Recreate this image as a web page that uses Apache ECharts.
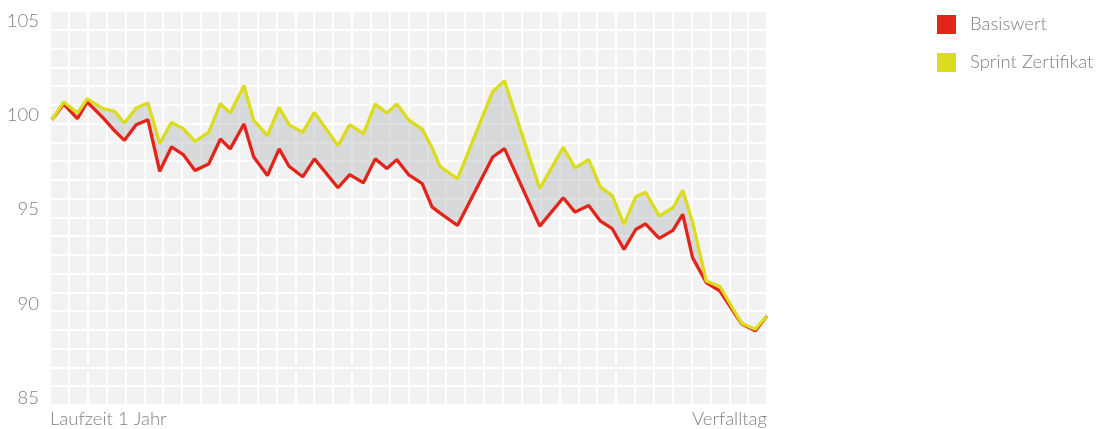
<!DOCTYPE html>
<html>
<head>
<meta charset="utf-8">
<script src="https://cdn.jsdelivr.net/npm/echarts@6/dist/echarts.min.js"></script>
<style>
html,body{margin:0;padding:0;background:#fff;}
#chart{width:1102px;height:429px;}
</style>
</head>
<body>
<div id="chart"></div>
<script>
// Days since start of the one-year term
var days = [0,6,13,18,26,32,37,43,49,55,61,67,73,80,86,91,98,103,110,116,121,128,134,146,152,159,165,171,176,182,189,194,198,207,225,231,249,261,267,274,280,286,292,298,303,310,317,322,327,334,341,352,359,365];
var basiswert = [99.75,100.58,99.81,100.69,99.86,99.16,98.66,99.49,99.75,97.02,98.31,97.91,97.06,97.41,98.73,98.21,99.53,97.78,96.80,98.21,97.29,96.73,97.68,96.15,96.85,96.41,97.68,97.17,97.64,96.85,96.37,95.14,94.82,94.15,97.78,98.22,94.12,95.62,94.86,95.21,94.38,93.98,92.89,93.94,94.24,93.47,93.89,94.74,92.45,91.13,90.68,88.95,88.57,89.36];
var sprint = [99.75,100.69,100.11,100.86,100.34,100.19,99.58,100.37,100.64,98.49,99.61,99.28,98.61,99.08,100.60,100.11,101.55,99.72,98.91,100.40,99.49,99.08,100.14,98.38,99.49,99.01,100.58,100.11,100.58,99.75,99.26,98.27,97.29,96.62,101.25,101.81,96.11,98.29,97.20,97.64,96.18,95.74,94.21,95.67,95.91,94.65,95.09,96.02,94.34,91.21,90.92,88.98,88.66,89.36];
var yTicks = [85,90,95,100,105];
var xLabels = ['Laufzeit 1 Jahr','Verfalltag'];
var seriesNames = ['Basiswert','Sprint Zertifikat'];

var redPts = days.map(function(d,i){return [d, basiswert[i]];});
var yelPts = days.map(function(d,i){return [d, sprint[i]];});
var bandData = days.map(function(d,i){return [d, basiswert[i], sprint[i]];});

var FONT = 'Lato';
var TXT = '#808080';
var chart = echarts.init(document.getElementById('chart'), null, {renderer:'canvas'});
chart.setOption({
  animation:false,
  backgroundColor:'#ffffff',
  grid:{left:50, right:335, top:11, bottom:23, show:true, backgroundColor:'#f2f2f2', borderWidth:0},
  legend:{
    orient:'vertical', left:932, top:10, itemWidth:19, itemHeight:19, itemGap:19,
    icon:'rect',
    data:[{name:seriesNames[0], icon:'rect'},{name:seriesNames[1], icon:'rect'}],
    textStyle:{color:TXT, fontSize:18.5, fontFamily:FONT, fontWeight:300, padding:[0,0,0,9]},
    selectedMode:false
  },
  xAxis:[{
    type:'value', min:-1, max:365,
    axisLine:{show:false}, axisTick:{show:false}, splitLine:{show:false},
    axisLabel:{
      customValues:[-1,365], margin:5, color:TXT, fontSize:18.5, fontFamily:FONT, fontWeight:300,
      alignMinLabel:'left', alignMaxLabel:'right',
      formatter:function(v){return v < 100 ? xLabels[0] : xLabels[1];}
    }
  },{
    type:'value', min:0, max:38, interval:1, position:'top',
    axisLine:{show:false}, axisTick:{show:false}, axisLabel:{show:false},
    splitLine:{show:true, lineStyle:{color:'#ffffff', width:2}}
  }],
  yAxis:[{
    type:'value', min:84.646, max:105.51,
    axisLine:{show:false}, axisTick:{show:false}, splitLine:{show:false},
    axisLabel:{customValues:yTicks, margin:11, color:TXT, fontSize:18.5, fontFamily:FONT, fontWeight:300}
  },{
    type:'value', min:0, max:21, interval:1, position:'right',
    axisLine:{show:false}, axisTick:{show:false}, axisLabel:{show:false},
    splitLine:{show:true, lineStyle:{color:'#ffffff', width:2}}
  }],
  series:[
    {name:'band', type:'custom', data:bandData, silent:true, z:1,
     encode:{x:0, y:[1,2]},
     renderItem:function(params, api){
       if (params.dataIndex !== 0) return null;
       var pts = [];
       for (var i = 0; i < days.length; i++) pts.push(api.coord([days[i], sprint[i]]));
       for (var j = days.length - 1; j >= 0; j--) pts.push(api.coord([days[j], basiswert[j]]));
       return {type:'polygon', shape:{points:pts}, style:{fill:'rgba(180,183,188,0.45)', stroke:null}};
     }},
    {name:seriesNames[0], type:'line', data:redPts, symbol:'none', color:'#e3241b',
     lineStyle:{color:'#e3241b', width:3.3}, z:3},
    {name:seriesNames[1], type:'line', data:yelPts, symbol:'none', color:'#dcdc1f',
     lineStyle:{color:'#dcdc1f', width:3.3}, z:4}
  ]
});
</script>
</body>
</html>
